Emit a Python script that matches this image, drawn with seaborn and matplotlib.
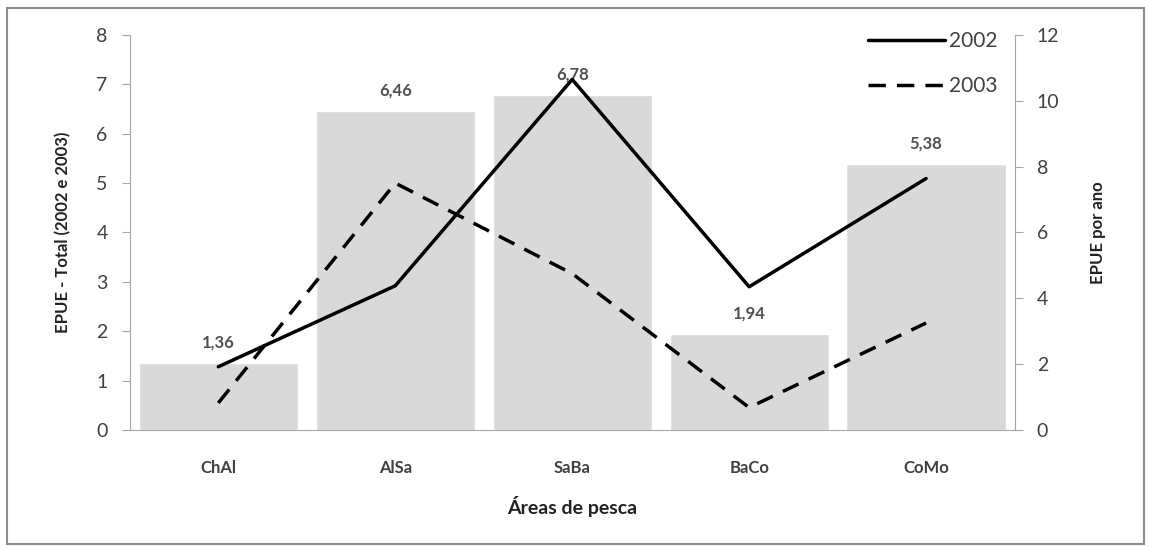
import numpy as np
import pandas as pd
import matplotlib.pyplot as plt
import seaborn as sns
from matplotlib.patches import Rectangle

# datos
areas = ["ChAl", "AlSa", "SaBa", "BaCo", "CoMo"]
epue_total = [1.36, 6.46, 6.78, 1.94, 5.38]
epue_2002 = [1.92, 4.38, 10.65, 4.35, 7.64]
epue_2003 = [0.82, 7.50, 4.75, 0.68, 3.25]
etiquetas = ["1,36", "6,46", "6,78", "1,94", "5,38"]

sns.set_style("white")
plt.rcParams['font.family'] = ['Lato', 'DejaVu Sans']

df = pd.DataFrame({"area": areas, "total": epue_total})
pos = np.arange(len(areas))
df_l = pd.DataFrame({"pos": np.concatenate([pos, pos]),
                     "valor": epue_2002 + epue_2003,
                     "ano": ["2002"] * len(areas) + ["2003"] * len(areas)})

fig = plt.figure(figsize=(11.49, 5.47), dpi=100)
ax = fig.add_axes([0.113, 0.214, 0.770, 0.722])
gris = "#a6a6a6"
texto = "#404040"

sns.barplot(data=df, x="area", y="total", color="#d9d9d9", width=0.9,
            saturation=1, ax=ax)
for i, lab in enumerate(etiquetas):
    ax.text(pos[i], epue_total[i] + 0.25, lab, ha="center", va="bottom",
            fontsize=12, color="#505050", fontweight="bold")

ax.set_ylim(0, 8)
ax.set_xlim(-0.5, 4.5)
ax.set_yticks(range(0, 9))
ax.set_xlabel("Áreas de pesca", fontsize=14, fontweight="bold", color="#222222", labelpad=14)
ax.set_ylabel("EPUE - Total (2002 e 2003)", fontsize=12, fontweight="bold", color="#222222", labelpad=18)
ax.tick_params(axis="y", length=6, color=gris, labelsize=14, labelcolor=texto, pad=10, left=True)
ax.tick_params(axis="x", length=0, labelsize=12, labelcolor=texto, pad=22)
for lab in ax.get_xticklabels():
    lab.set_fontweight("bold")
for s in ["left", "bottom"]:
    ax.spines[s].set_color(gris)
ax.spines["top"].set_visible(False)
ax.spines["right"].set_visible(False)

ax2 = ax.twinx()
sns.lineplot(data=df_l, x="pos", y="valor", style="ano", color="black",
             dashes={"2002": "", "2003": (5, 3.2)}, linewidth=2.5, ax=ax2)
ax2.set_ylim(0, 12)
ax2.set_xlim(-0.5, 4.5)
ax2.set_yticks(range(0, 13, 2))
ax2.set_ylabel("EPUE por ano", fontsize=12, fontweight="bold", color="#222222", labelpad=22)
ax2.tick_params(axis="y", length=6, color=gris, labelsize=14, labelcolor=texto, pad=10, right=True)
ax2.spines["right"].set_color(gris)
for s in ["top", "left", "bottom"]:
    ax2.spines[s].set_visible(False)
ax2.set_xlabel("")

leg = ax2.legend(loc="upper right", frameon=False, fontsize=15, handlelength=3.7,
                 handletextpad=0.2, labelspacing=1.2, borderaxespad=0.0,
                 bbox_to_anchor=(0.99, 1.03))
for t in leg.get_texts():
    t.set_color(texto)

fig.patches.append(Rectangle((0.006, 0.005), 0.99, 0.98, transform=fig.transFigure,
                             fill=False, edgecolor="#8c8c8c", linewidth=1.5))

plt.savefig("out.png", dpi=100)
